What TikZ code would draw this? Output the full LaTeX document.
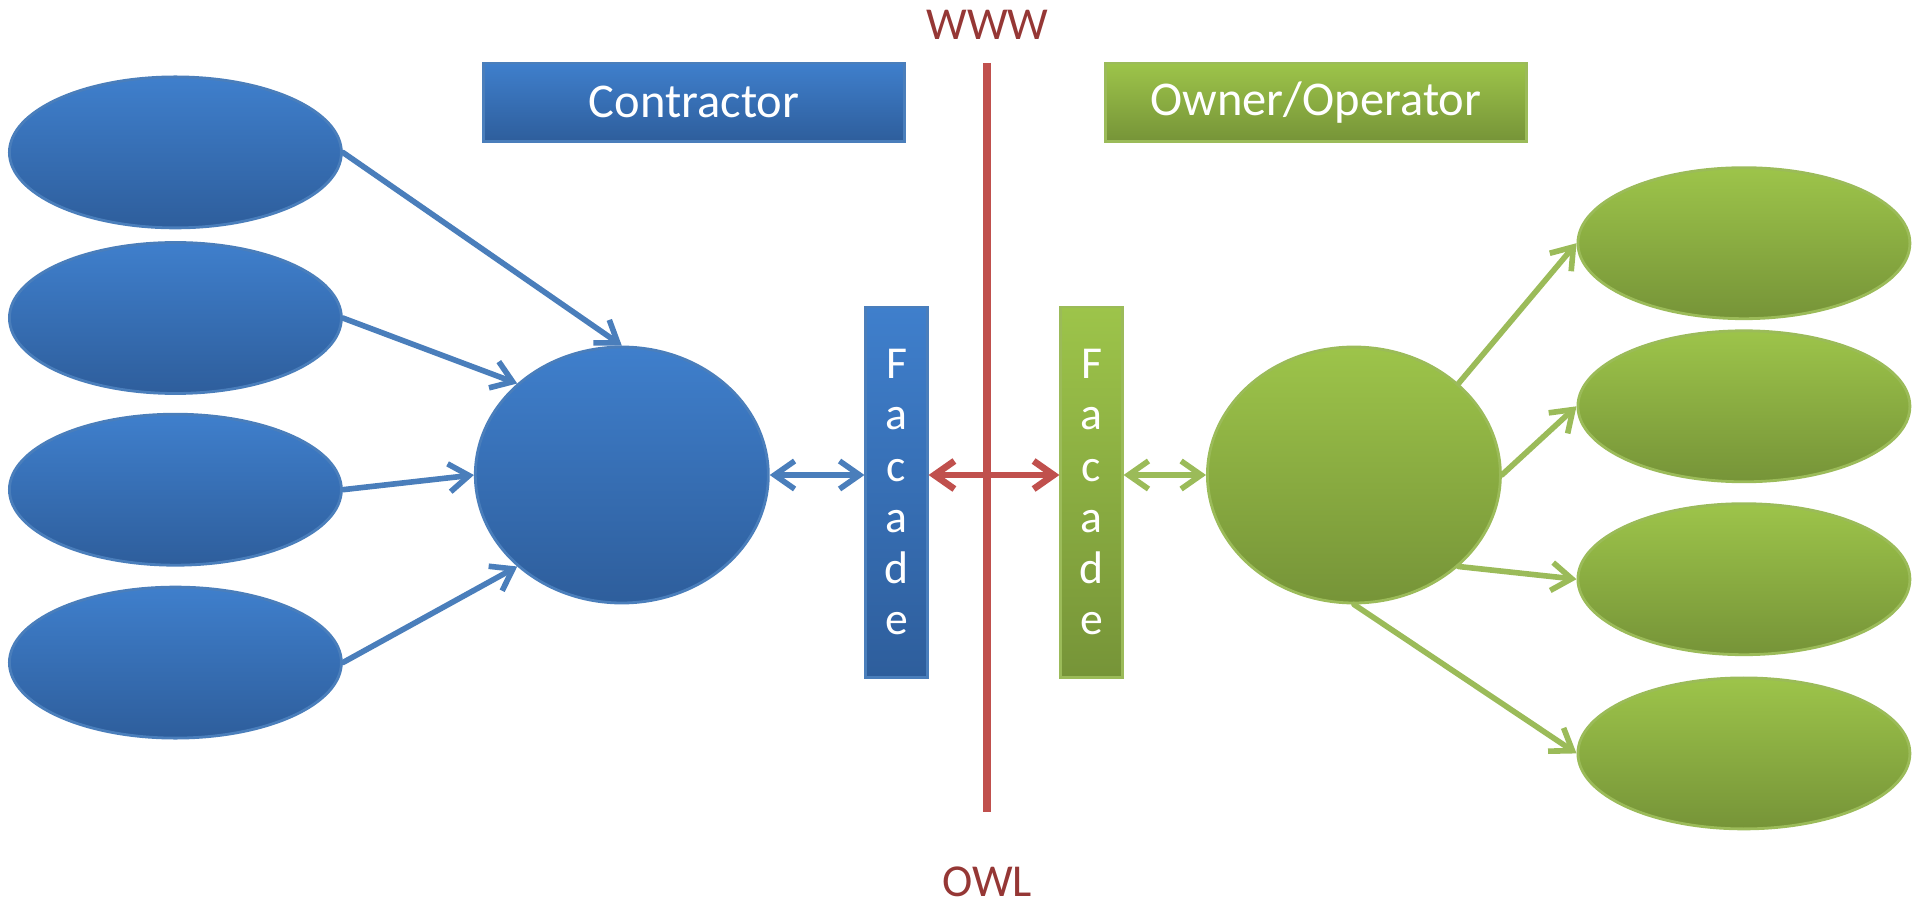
\documentclass[tikz,border=0pt]{standalone}
\usepackage{fontspec}
\setmainfont{Carlito}
\usetikzlibrary{positioning,shapes.geometric,arrows.meta}

\definecolor{contractorTop}{RGB}{63,127,204}
\definecolor{contractorBottom}{RGB}{46,94,156}
\definecolor{contractorLine}{RGB}{74,126,187}
\definecolor{ownerTop}{RGB}{157,196,74}
\definecolor{ownerBottom}{RGB}{118,148,56}
\definecolor{ownerLine}{RGB}{155,187,89}
\definecolor{wwwRed}{RGB}{192,80,77}
\definecolor{wwwText}{RGB}{149,55,53}

\tikzset{
 contractorFill/.style={top color=contractorTop, bottom color=contractorBottom, draw=contractorLine, line width=0.8pt},
 ownerFill/.style={top color=ownerTop, bottom color=ownerBottom, draw=ownerLine, line width=0.8pt},
 leaf/.style={ellipse, minimum width=3.32cm, minimum height=1.51cm, inner sep=0pt},
 hub/.style={ellipse, minimum width=2.93cm, minimum height=2.56cm, inner sep=0pt},
 titleBox/.style={rectangle, minimum width=4.21cm, minimum height=0.785cm, text=white, font=\fontsize{13.8}{16}\selectfont},
 facadeBox/.style={rectangle, minimum width=0.613cm, minimum height=3.704cm, inner sep=0pt, text=white, align=center, font=\fontsize{13}{14.6}\selectfont},
 sideName/.style={inner sep=0pt, text=wwwText, font=\fontsize{13}{15}\selectfont},
 link/.style={line width=1.6pt, line cap=round, -{Straight Barb[length=2mm,width=2.8mm]}},
 twoWay/.style={line width=1.6pt, line cap=round, {Straight Barb[length=2mm,width=2.8mm]}-{Straight Barb[length=2mm,width=2.8mm]}},
}

\begin{document}
\begin{tikzpicture}
 \useasboundingbox (0,0) rectangle (19.23,9.03);

 %Divider
 \coordinate (lineTop) at (9.873,8.401);
 \coordinate (lineBot) at (9.873,0.908);
 \draw[wwwRed, line width=2.3pt] (lineTop) -- (lineBot);
 \node (wwwName) [sideName, above=0.23cm of lineTop] {WWW};
 \node (owlName) [sideName, below=0.54cm of lineBot] {OWL};

 %Titles
 \node (contractorTitle) [titleBox, contractorFill] at (6.941,8.008) {Contractor};
 \node (ownerTitle) [titleBox, ownerFill] at (13.159,8.008) {Owner/Operator};

 %Hubs
 \node (contractorHub) [hub, contractorFill] at (6.218,4.280) {};
 \node (ownerHub) [hub, ownerFill] at (13.539,4.280) {};

 %Facades
 \node (contractorFacade) [facadeBox, contractorFill] at (8.965,4.108) {F\\a\\c\\a\\d\\e};
 \node (ownerFacade) [facadeBox, ownerFill] at (10.915,4.108) {F\\a\\c\\a\\d\\e};

 %Ellipses
 \foreach \n/\y in {1/7.506,2/5.850,3/4.133,4/2.404}
   \node (source\n) [leaf, contractorFill] at (1.754,\y) {};
 \foreach \n/\y in {1/6.598,2/4.967,3/3.238,4/1.496}
   \node (target\n) [leaf, ownerFill] at (17.439,\y) {};

 %Links
 \foreach \n/\a in {1/north,2/north west,3/west,4/south west}
   \draw[link, contractorLine] (source\n.east) -- (contractorHub.\a);
 \foreach \a/\n in {north east/1,east/2,south east/3,south/4}
   \draw[link, ownerLine] (ownerHub.\a) -- (target\n.west);

 \draw[twoWay, contractorLine] (contractorHub.east) -- (contractorHub.east -| contractorFacade.west);
 \draw[twoWay, wwwRed, line width=1.9pt] (contractorHub.east -| contractorFacade.east) -- (contractorHub.east -| ownerFacade.west);
 \draw[twoWay, ownerLine] (ownerHub.west -| ownerFacade.east) -- (ownerHub.west);
\end{tikzpicture}
\end{document}
